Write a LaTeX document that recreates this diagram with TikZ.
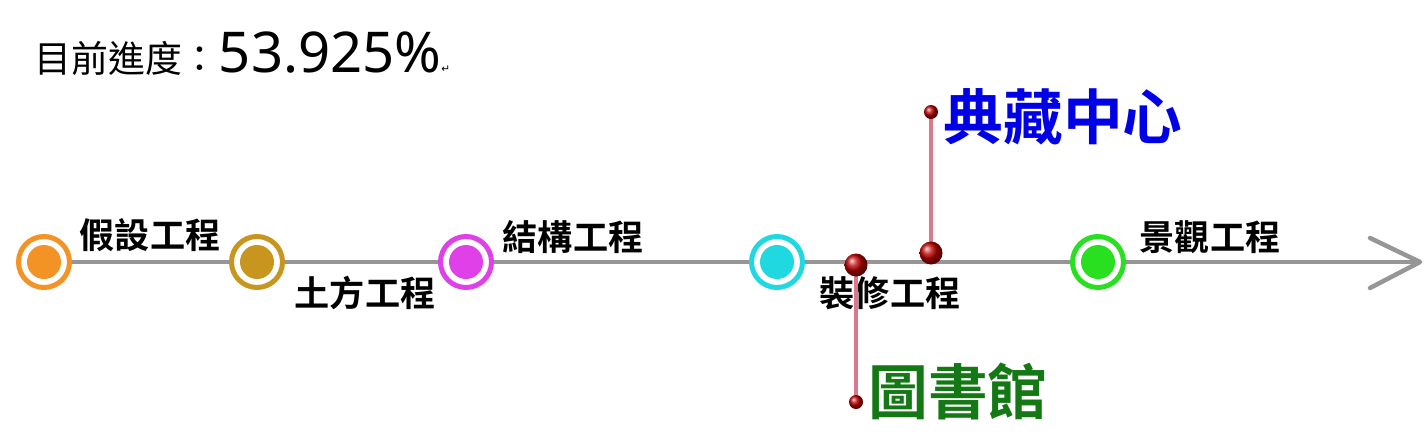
\documentclass[tikz,border=0pt]{standalone}
\usepackage{fontspec}
\setmainfont{Noto Sans}
\newfontfamily\cjk{Noto Sans CJK TC}[BoldFont={* Bold}]
\newfontfamily\symfont{DejaVu Sans}
\usetikzlibrary{calc,positioning,arrows.meta}
\definecolor{cOrange}{RGB}{243,147,37}
\definecolor{cGold}{RGB}{200,150,30}
\definecolor{cMagenta}{RGB}{224,64,232}
\definecolor{cCyan}{RGB}{32,216,224}
\definecolor{cGreen}{RGB}{40,224,32}
\definecolor{cAxis}{RGB}{150,150,150}
\definecolor{cBlue}{RGB}{0,0,230}
\definecolor{cDark}{RGB}{20,120,20}
\definecolor{cStem}{RGB}{220,120,140}
\tikzset{
  stage/.style={circle,draw=#1,line width=0.1cm,minimum size=1.02cm,inner sep=0pt},
  dot/.style={circle,fill=#1,minimum size=0.68cm,inner sep=0pt},
  stagelabel/.style={font=\cjk\bfseries\fontsize{20}{24}\selectfont},
  bigball/.style={circle,shading=ball,ball color=red!75!black,minimum size=0.46cm,inner sep=0pt},
  smallball/.style={circle,shading=ball,ball color=red!75!black,minimum size=0.28cm,inner sep=0pt},
  stem/.style={draw=cStem,line width=0.08cm}
}
\begin{document}
\begin{tikzpicture}
  \useasboundingbox (0,0) rectangle (28.52,8.68);
  % title
  \node[anchor=west,inner sep=0pt] (title) at (0.68,7.6)
    {{\cjk\fontsize{21}{24}\selectfont 目前進度：}{\fontsize{32}{36}\selectfont 53.925\%}{\symfont\fontsize{6}{6}\selectfont ↵}};
  % axis
  \coordinate (start) at (0.88,3.44);
  \coordinate (tip) at (28.4,3.44);
  \draw[cAxis,line width=0.09cm] (start) -- (tip);
  \draw[cAxis,line width=0.09cm,line cap=round,line join=round] ($(tip)+(-1.0,0.48)$) -- (tip) -- ($(tip)+(-1.0,-0.52)$);
  % stages
  \foreach \n/\x/\c in {a/0.88/cOrange,b/5.14/cGold,c/9.32/cMagenta,d/15.54/cCyan,e/21.96/cGreen}{
    \node[stage=\c,fill=white] (s\n) at (\x,3.44) {};
    \node[dot=\c] at (s\n) {};
  }
  \node[stagelabel] (la) at (3.0,3.98) {假設工程};
  \node[stagelabel] (lb) at (7.3,2.82) {土方工程};
  \node[stagelabel] (lc) at (11.46,3.94) {結構工程};
  \node[stagelabel] (ld) at (17.8,2.82) {裝修工程};
  \node[stagelabel] (le) at (24.2,3.94) {景觀工程};
  % pins
  \coordinate (libend) at (17.12,0.64);
  \coordinate (arcend) at (18.62,6.44);
  \coordinate (libpin) at (17.12,3.38);
  \coordinate (arcpin) at (18.62,3.62);
  \draw[stem] (libpin) -- (libend);
  \draw[stem] (arcpin) -- (arcend);
  \node[bigball] at (libpin) {};
  \node[bigball] at (arcpin) {};
  \node[smallball] at (libend) {};
  \node[smallball] at (arcend) {};
  \node[font=\cjk\bfseries\fontsize{34}{38}\selectfont,text=cDark] (lib) at (19.16,0.86) {圖書館};
  \node[font=\cjk\bfseries\fontsize{34}{38}\selectfont,text=cBlue] (arc) at (21.26,6.34) {典藏中心};
\end{tikzpicture}
\end{document}
